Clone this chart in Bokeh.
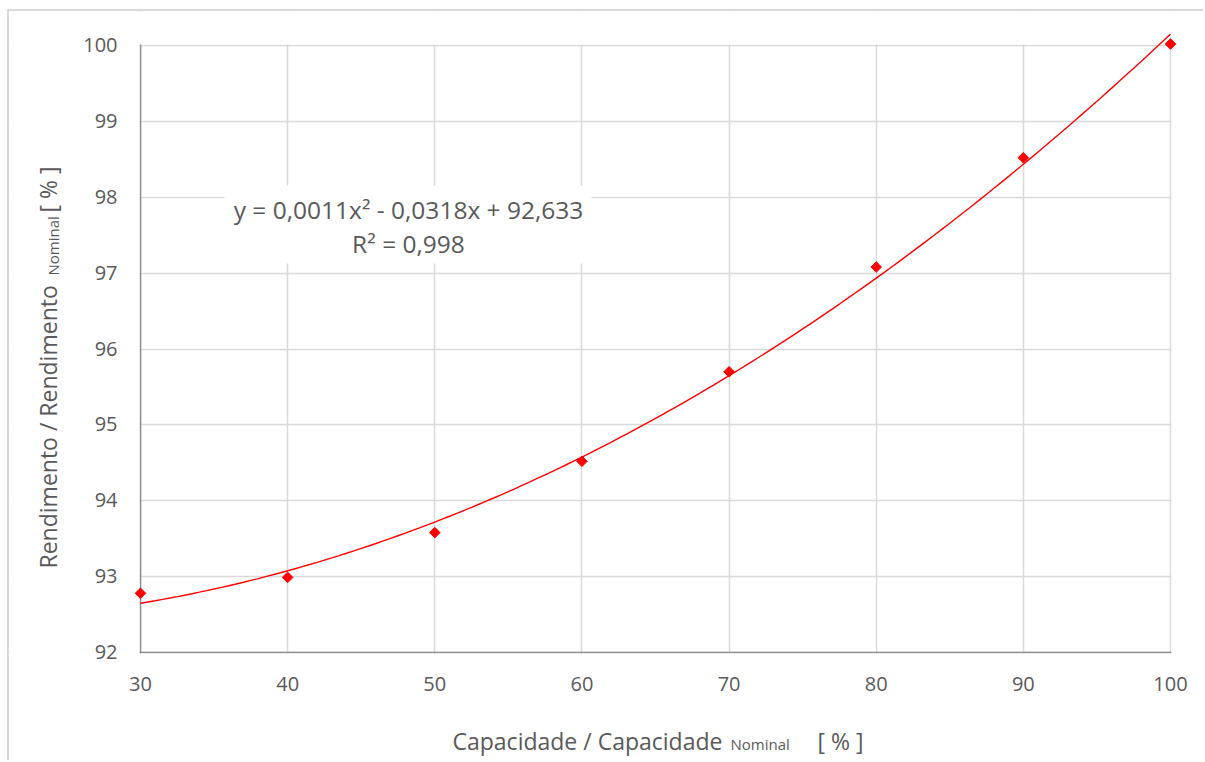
import numpy as np
from bokeh.plotting import figure
from bokeh.models import Label, BoxAnnotation, FixedTicker, Range1d, Grid, Span
from bokeh.embed import file_html
from bokeh.resources import INLINE

# ---- data ----
capacidade = [30, 40, 50, 60, 70, 80, 90, 100]
rendimento = [92.78, 92.99, 93.58, 94.52, 95.70, 97.08, 98.52, 100.02]
x_ticks = [30, 40, 50, 60, 70, 80, 90, 100]
y_ticks = [92, 93, 94, 95, 96, 97, 98, 99, 100]
equation_text = "y = 0,0011x² - 0,0318x + 92,633"
r2_text = "R² = 0,998"
x_title = "Capacidade / Capacidade"
y_title = "Rendimento / Rendimento"
sub_text = "Nominal"
unit_text = "[ % ]"

# ---- layout (page pixels) ----
OFF_X, OFF_Y = 9, 11            # canvas origin on the page (after css margin+border)
W, H = 1205 - OFF_X, 762 - OFF_Y
AX_L, AX_R, AX_T, AX_B = 140, 1170, 45, 652   # page pixel of x=30, x=100, y=100, y=92
X0, X1, Y0, Y1 = 30, 100, 92, 100
ppx = (AX_R - AX_L) / (X1 - X0)
ppy = (AX_B - AX_T) / (Y1 - Y0)
x_range = Range1d(X0 - (AX_L - OFF_X) / ppx, X1 + (1205 - AX_R) / ppx)
y_range = Range1d(Y0 - (762 - AX_B) / ppy, Y1 + (AX_T - OFF_Y) / ppy)
BFIX = 8  # baseline correction in px


def dx(px):
    return X0 + (px - AX_L) / ppx


def dy(py):
    return Y1 - (py - AX_T) / ppy


TXT = "#595959"
GRID = "#d9d9d9"
AXIS = "#8c8c8c"
RED = "#ff0000"
FONT = "Open Sans"

p = figure(width=W, height=H, x_range=x_range, y_range=y_range,
           x_axis_type=None, y_axis_type=None,
           output_backend="svg", toolbar_location=None, min_border=0,
           outline_line_color=None, background_fill_color="white",
           border_fill_color="white")
p.styles = {"margin-left": "7px", "margin-top": "9px",
            "border-left": "2px solid #d9d9d9", "border-top": "2px solid #d9d9d9"}

# grid lines
p.add_layout(Grid(dimension=0, ticker=FixedTicker(ticks=x_ticks), bounds=(X0, X1),
                  grid_line_color=GRID, grid_line_width=1.5))
p.add_layout(Grid(dimension=1, ticker=FixedTicker(ticks=y_ticks), bounds=(Y0, Y1),
                  grid_line_color=GRID, grid_line_width=1.5))
# axis lines
p.add_layout(Span(location=X0, dimension="height", line_color=AXIS, line_width=1.5,
                  level="underlay"))
p.add_layout(Span(location=Y0, dimension="width", line_color=AXIS, line_width=1.5,
                  level="underlay"))

# white covers outside the axis box and behind the equation
covers = [
    dict(left=x_range.start, right=X0 - 1 / ppx, bottom=y_range.start, top=y_range.end),
    dict(left=X1 + 1 / ppx, right=x_range.end, bottom=y_range.start, top=y_range.end),
    dict(left=x_range.start, right=x_range.end, bottom=Y1 + 1 / ppy, top=y_range.end),
    dict(left=x_range.start, right=x_range.end, bottom=y_range.start, top=Y0 - 1 / ppy),
    dict(left=dx(224), right=dx(591), bottom=dy(263), top=dy(185)),
]
for c in covers:
    p.add_layout(BoxAnnotation(fill_color="white", fill_alpha=1, line_color=None,
                               level="underlay", **c))

# trend line (least-squares quadratic of the data)
coef = np.polyfit(capacidade, rendimento, 2)
xs = np.linspace(X0, X1, 141)
p.line(xs, np.polyval(coef, xs), line_color=RED, line_width=1.4)
p.scatter(capacidade, rendimento, marker="square", angle=np.pi / 4, size=7.5,
          fill_color=RED, line_color=RED)


def lab(text, x, y, size, angle=0.0, align="left"):
    p.add_layout(Label(x=x, y=y, text=text, angle=angle,
                       text_align=align, text_baseline="alphabetic",
                       text_font=FONT, text_font_size=size, text_color=TXT))


# tick labels
for t in x_ticks:
    lab(str(t), t, dy(691 - BFIX), "20px", align="center")
for t in y_ticks:
    lab(str(t), dx(117), t - (7.5 - BFIX) / ppy, "20px", align="right")

# trendline equation
lab(equation_text, dx(408), dy(217 - BFIX), "24.5px", align="center")
lab(r2_text, dx(408), dy(251 - BFIX), "24.5px", align="center")

# axis titles
lab(x_title, dx(452), dy(748 - BFIX), "23px")
lab(sub_text, dx(730), dy(751 - BFIX), "15px")
lab(unit_text, dx(817), dy(748 - BFIX), "23px")

lab(y_title, dx(55 - BFIX), dy(568), "23px", angle=np.pi / 2)
lab(sub_text, dx(60 - BFIX), dy(275), "15px", angle=np.pi / 2)
lab(unit_text, dx(55 - BFIX), dy(212), "23px", angle=np.pi / 2)

open("out.html", "w").write(file_html(p, INLINE))
